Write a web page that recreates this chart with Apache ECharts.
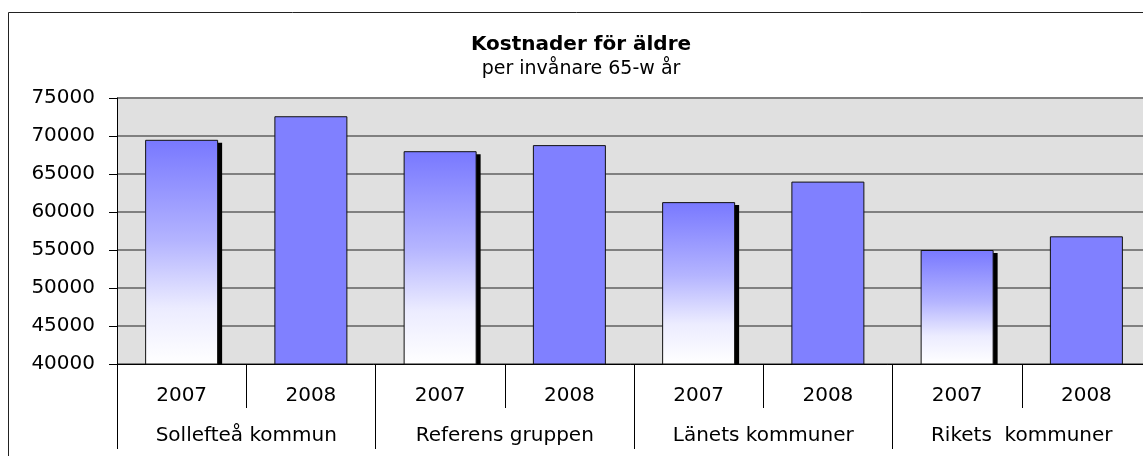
<!DOCTYPE html>
<html><head><meta charset="utf-8">
<script src="https://cdn.jsdelivr.net/npm/echarts@6/dist/echarts.min.js"></script>
<style>html,body{margin:0;padding:0;background:#fff}#c{width:1143px;height:456px}</style>
</head><body><div id="c"></div>
<script>
const titleText = 'Kostnader för äldre';
const subtitleText = 'per invånare 65-w år';
const groups = ['Sollefteå kommun', 'Referens gruppen', 'Länets kommuner', 'Rikets  kommuner'];
const years = ['2007', '2008'];
const values2007 = [69500, 68000, 61300, 55000];
const values2008 = [72600, 68800, 64000, 56800];
const yMin = 40000, yMax = 75000, yStep = 5000;

const FONT = '"DejaVu Sans", "Liberation Sans", Arial, sans-serif';
const BAR_W = 73;

const style2007 = {
  color: {type: 'linear', x: 0, y: 0, x2: 0, y2: 1, colorStops: [
    {offset: 0, color: '#7878ff'},
    {offset: 0.45, color: '#b4b4ff'},
    {offset: 0.75, color: '#ececff'},
    {offset: 1, color: '#ffffff'}
  ]},
  borderColor: '#111', borderWidth: 1
};
const style2008 = {color: '#8080ff', borderColor: '#111', borderWidth: 1};

const yearCats = [];
const barData = [];
const shadowData = [];
groups.forEach((g, i) => {
  yearCats.push(years[0], years[1]);
  barData.push({value: values2007[i], itemStyle: style2007});
  barData.push({value: values2008[i], itemStyle: style2008});
  shadowData.push([i * 2, values2007[i]]);
});

const chart = echarts.init(document.getElementById('c'), null, {renderer: 'canvas'});
chart.setOption({
  animation: false,
  backgroundColor: '#fff',
  grid: {left: 117, top: 98, width: 1034, height: 266, outerBoundsMode: 'none', containLabel: false,
         show: true, backgroundColor: '#e0e0e0', borderWidth: 0},
  graphic: [
    {type: 'rect', silent: true, z: -10, shape: {x: 8.5, y: 12.5, width: 1400, height: 700},
     style: {fill: 'none', stroke: '#222', lineWidth: 1}},
    {type: 'text', x: 581, y: 45, style: {text: titleText, font: 'bold 20px ' + FONT, fill: '#000',
      align: 'center', textAlign: 'center', verticalAlign: 'middle', textVerticalAlign: 'middle'}},
    {type: 'text', x: 581, y: 69, style: {text: subtitleText, font: '19px ' + FONT, fill: '#000',
      align: 'center', textAlign: 'center', verticalAlign: 'middle', textVerticalAlign: 'middle'}}
  ],
  xAxis: [
    {type: 'category', data: yearCats, position: 'bottom', boundaryGap: true,
     axisLine: {show: true, lineStyle: {color: '#000', width: 1}},
     axisTick: {show: true, interval: 0, length: 44, lineStyle: {color: '#000'}},
     axisLabel: {interval: 0, margin: 22, fontSize: 20, fontFamily: FONT, color: '#000'},
     splitLine: {show: false}},
    {type: 'category', data: groups, position: 'bottom', boundaryGap: true,
     axisLine: {show: false},
     axisTick: {show: true, interval: 0, length: 85, lineStyle: {color: '#000'}},
     axisLabel: {interval: 0, margin: 62, fontSize: 20, fontFamily: FONT, color: '#000'},
     splitLine: {show: false}}
  ],
  yAxis: {
    type: 'value', min: yMin, max: yMax, interval: yStep,
    axisLine: {show: true, lineStyle: {color: '#000', width: 1}},
    axisTick: {show: true, length: 8, lineStyle: {color: '#000'}},
    axisLabel: {margin: 22, fontSize: 20, fontFamily: FONT, color: '#000', formatter: v => String(v)},
    splitLine: {show: true, lineStyle: {color: '#808080', width: 2}}
  },
  series: [
    {
      type: 'custom', xAxisIndex: 0, yAxisIndex: 0, z: 1, silent: true,
      data: shadowData,
      renderItem: function (params, api) {
        const top = api.coord([api.value(0), api.value(1)]);
        const base = api.coord([api.value(0), yMin]);
        const dx = 4, dy = 3;
        return {
          type: 'rect',
          shape: {x: top[0] - BAR_W / 2 + dx, y: top[1] + dy, width: BAR_W, height: base[1] - top[1] - dy},
          style: {fill: '#000'}
        };
      }
    },
    {type: 'bar', xAxisIndex: 0, yAxisIndex: 0, z: 2, barWidth: BAR_W, data: barData}
  ]
});
</script></body></html>
